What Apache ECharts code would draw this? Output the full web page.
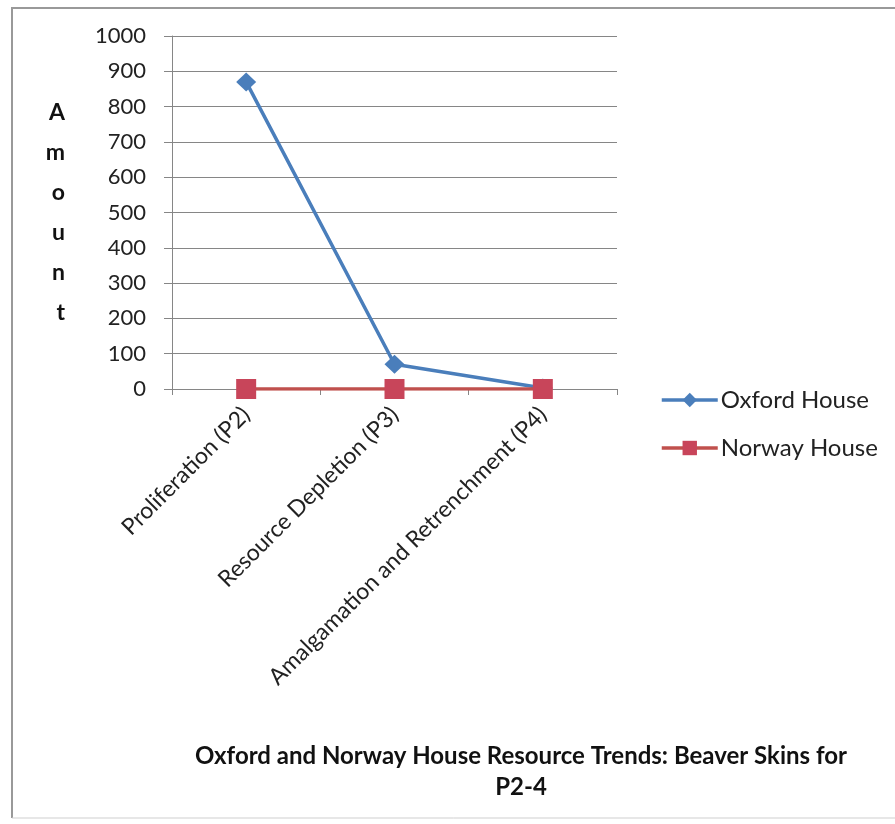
<!DOCTYPE html>
<html><head><meta charset="utf-8">
<script src="https://cdn.jsdelivr.net/npm/echarts@6/dist/echarts.min.js"></script>
<style>html,body{margin:0;padding:0;background:#fff}#c{width:895px;height:824px}</style>
</head><body><div id="c"></div>
<script>
const categories = ['Proliferation (P2)', 'Resource Depletion (P3)', 'Amalgamation and Retrenchment (P4)'];
const oxfordHouse = [870, 70, 3];
const norwayHouse = [0, 0, 0];
const yTicks = {min: 0, max: 1000, interval: 100};
const titleText = 'Oxford and Norway House Resource Trends: Beaver Skins for\nP2-4';
const yName = 'Amount';

const FONT = 'Lato, "Open Sans", sans-serif';
const chart = echarts.init(document.getElementById('c'));
chart.setOption({
  animation: false,
  backgroundColor: '#fff',
  graphic: [
    {type: 'polyline', shape: {points: [[12, 818], [12, 8], [895, 8]]},
     style: {fill: null, stroke: '#999', lineWidth: 2}, silent: true},
    {type: 'line', shape: {x1: 12, y1: 818, x2: 895, y2: 818},
     style: {stroke: '#cfcfcf', lineWidth: 1}, silent: true}
  ],
  title: {
    text: titleText, left: 516, top: 736, textAlign: 'center',
    textStyle: {fontFamily: FONT, fontSize: 24, fontWeight: 'bold', color: '#111', lineHeight: 31}
  },
  legend: {
    orient: 'vertical', left: 655, top: 383, itemGap: 24, itemWidth: 56, itemHeight: 18,
    lineStyle: {width: 3.5},
    textStyle: {fontFamily: FONT, fontSize: 24, color: '#222', padding: [0, 0, 0, -2]},
    data: [{name: 'Oxford House'}, {name: 'Norway House'}]
  },
  grid: {left: 172, top: 36, width: 445, height: 353, containLabel: false},
  xAxis: {
    type: 'category', data: categories, boundaryGap: true,
    axisLine: {lineStyle: {color: '#868686', width: 1}},
    axisTick: {show: true, length: 6, lineStyle: {color: '#868686'}},
    axisLabel: {rotate: 45, interval: 0, margin: 22, fontFamily: FONT, fontSize: 23, color: '#222'}
  },
  yAxis: {
    type: 'value', min: yTicks.min, max: yTicks.max, interval: yTicks.interval,
    name: yName.split('').join('\n'), nameLocation: 'middle', nameRotate: 0, nameGap: 107,
    nameTextStyle: {fontFamily: FONT, fontSize: 23, fontWeight: 'bold', color: '#111', lineHeight: 40, padding: [20, 0, 0, 0]},
    axisLine: {show: true, lineStyle: {color: '#868686', width: 1}},
    axisTick: {show: true, length: 8, lineStyle: {color: '#868686'}},
    splitLine: {lineStyle: {color: '#868686', width: 1}},
    axisLabel: {margin: 26, fontFamily: FONT, fontSize: 22, color: '#222', formatter: v => String(v)}
  },
  series: [
    {name: 'Oxford House', type: 'line', data: oxfordHouse, symbol: 'diamond', symbolSize: [20, 19],
     itemStyle: {color: '#4a7ebb'}, lineStyle: {width: 3.5, color: '#4a7ebb'}, z: 3},
    {name: 'Norway House', type: 'line', data: norwayHouse, symbol: 'rect', symbolSize: 20,
     itemStyle: {color: '#c8455a'}, lineStyle: {width: 3.5, color: '#c0504d'}, z: 4}
  ]
});
</script></body></html>
